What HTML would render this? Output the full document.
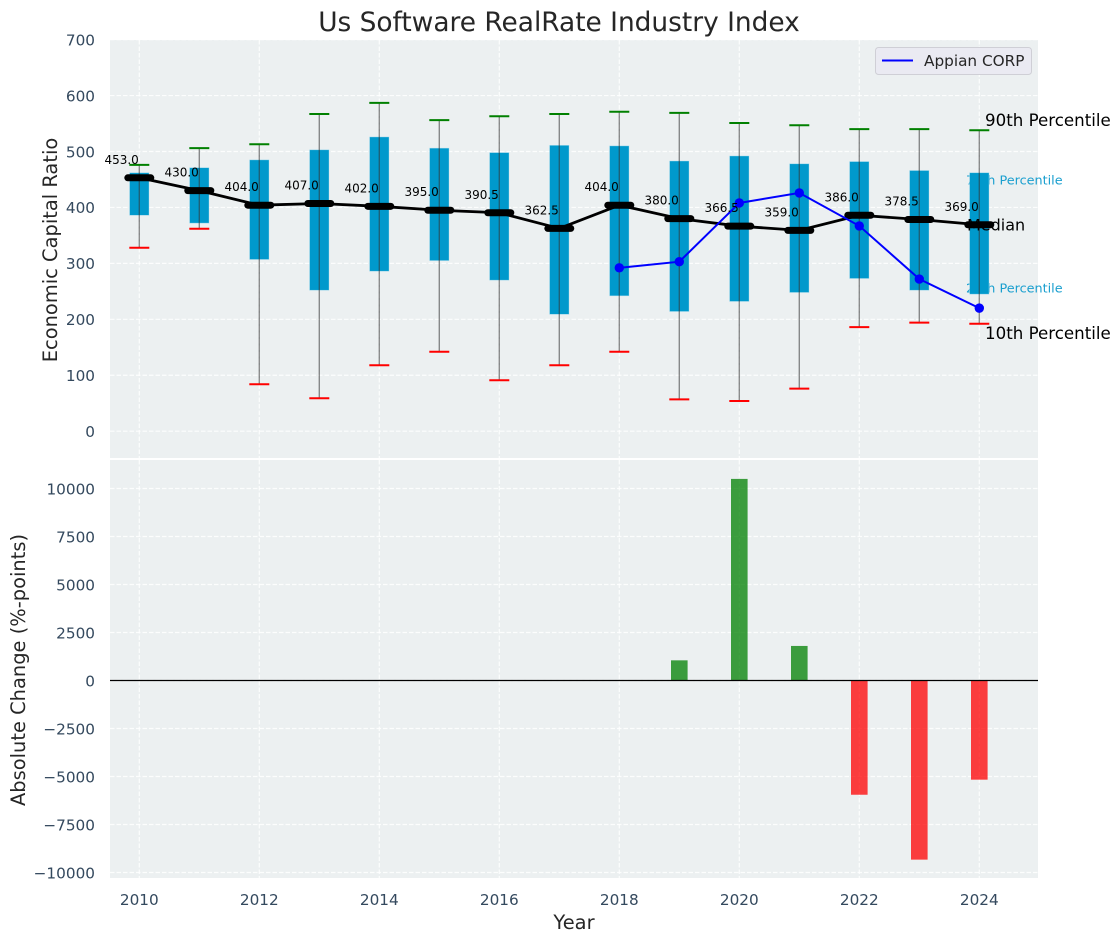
<!DOCTYPE html>
<html>
<head>
<meta charset="utf-8">
<style>
html,body{margin:0;padding:0;background:#fff;width:1120px;height:942px;overflow:hidden}
svg{display:block}
text{font-family:"DejaVu Sans","Liberation Sans",sans-serif}
</style>
</head>
<body>
<svg id="chart" width="1120" height="942" viewBox="0 0 1120 942" xmlns="http://www.w3.org/2000/svg">
  <rect x="110" y="40" width="928" height="418" fill="#ecf0f1"/>
  <rect x="110" y="460" width="928" height="418" fill="#ecf0f1"/>
  <g id="grid"></g>
  <g id="annots">
    <text x="966" y="184.500" font-size="12.800" fill="#1a9fcf">75th Percentile</text>
    <text x="966" y="292.500" font-size="12.800" fill="#1a9fcf">25th Percentile</text>
    <text x="985" y="126" font-size="16.670" fill="#000">90th Percentile</text>
    <text x="985" y="339" font-size="16.670" fill="#000">10th Percentile</text>
  </g>
  <g id="marks"></g>
  <g id="labels"></g>
  <g id="ticks"></g>
  <text x="967" y="230.500" font-size="16" fill="#000">Median</text>
  <text x="559" y="31" font-size="26.400" text-anchor="middle" fill="#262626">Us Software RealRate Industry Index</text>
  <text transform="translate(57,250) rotate(-90)" font-size="19.440" text-anchor="middle" fill="#262626">Economic Capital Ratio</text>
  <text transform="translate(25,670) rotate(-90)" font-size="19.440" text-anchor="middle" fill="#262626">Absolute Change (%-points)</text>
  <text x="574" y="929" font-size="19.440" text-anchor="middle" fill="#262626">Year</text>
  <g>
    <rect x="875.500" y="47.500" width="156" height="27" rx="3" fill="#eaeaf2" stroke="#cfcfd6" stroke-width="1"/>
    <line x1="882" x2="913" y1="60.500" y2="60.500" stroke="#0000ff" stroke-width="2"/>
    <text x="924" y="66" font-size="15.280" fill="#262626">Appian CORP</text>
  </g>
</svg>
<script>
const years = [2010,2011,2012,2013,2014,2015,2016,2017,2018,2019,2020,2021,2022,2023,2024];
const p90 = [476,506,513,567,587,556,563,567,571,569,551,547,540,540,538];
const p75 = [462,471,485,503,526,506,498,511,510,483,492,478,482,466,462];
const medians = [453,430,404,407,402,395,390.5,362.5,404,380,366.5,359,386,378.5,369];
const p25 = [386,372,307,252,286,305,270,209,242,214,232,248,273,252,245];
const p10 = [328,362,84,59,118,142,91,118,142,57,54,76,186,194,192];
const appianYears = [2018,2019,2020,2021,2022,2023,2024];
const appianValues = [292,303,408,426,367,272,220];
const changeYears = [2019,2020,2021,2022,2023,2024];
const changeValues = [1050,10500,1800,-5950,-9330,-5165];
const xTicks = [2010,2012,2014,2016,2018,2020,2022,2024];
const topTicks = [0,100,200,300,400,500,600,700];
const bottomTicks = [-10000,-7500,-5000,-2500,0,2500,5000,7500,10000];

const NS = 'http://www.w3.org/2000/svg';
const X = v => 139.3 + (v - 2010) * 60;
const YT = v => 431.2 - v * 0.5594;
const YB = v => 680.5 - v * 0.0192;

function mk(parentId, tag, attrs, txt) {
  const el = document.createElementNS(NS, tag);
  for (const k in attrs) el.setAttribute(k, attrs[k]);
  if (txt !== undefined) el.textContent = txt;
  document.getElementById(parentId).appendChild(el);
  return el;
}
const gridStyle = {stroke:'#ffffff','stroke-width':1.2,'stroke-dasharray':'4.5 2','stroke-opacity':0.85,fill:'none'};
const tickColor = '#34495e';

xTicks.forEach(t => {
  let el = mk('grid','line',Object.assign({x1:X(t),x2:X(t),y1:40,y2:458},gridStyle));
  
  
  el = mk('grid','line',Object.assign({x1:X(t),x2:X(t),y1:460,y2:878},gridStyle));
  
  
  el = mk('ticks','text',{x:X(t),y:905,'font-size':15.280,'text-anchor':'middle',fill:tickColor},String(t));
  
  
});
topTicks.forEach(t => {
  let el = mk('grid','line',Object.assign({x1:110,x2:1038,y1:YT(t),y2:YT(t)},gridStyle));
  
  
  el = mk('ticks','text',{x:95,y:YT(t)+5.800,'font-size':15.280,'text-anchor':'end',fill:tickColor},String(t));
  
  
});
bottomTicks.forEach(t => {
  let el = mk('grid','line',Object.assign({x1:110,x2:1038,y1:YB(t),y2:YB(t)},gridStyle));
  
  
  const s = t < 0 ? '\u2212' + Math.abs(t) : String(t);
  el = mk('ticks','text',{x:95,y:YB(t)+5.800,'font-size':15.280,'text-anchor':'end',fill:tickColor},s);
  
  
});

years.forEach((yr,i) => {
  const x = X(yr);
  const box = mk('marks','rect',{x:x-9.700,y:YT(p75[i]),width:19.400,height:YT(p25[i])-YT(p75[i]),fill:'#0099cc',stroke:'#a8dcee','stroke-width':0.6,'stroke-opacity':0.7});
  
  
  const w = mk('marks','line',{x1:x,x2:x,y1:YT(p90[i]),y2:YT(p10[i]),stroke:'#333333','stroke-width':1.4,'stroke-opacity':0.55});
  
  
  const hi = mk('marks','line',{x1:x-10,x2:x+10,y1:YT(p90[i]),y2:YT(p90[i]),stroke:'#008000','stroke-width':2});
  
  
  const lo = mk('marks','line',{x1:x-10,x2:x+10,y1:YT(p10[i]),y2:YT(p10[i]),stroke:'#ff0000','stroke-width':2});
  
  
});

const medLine = mk('marks','polyline',{points:years.map((y,i)=>X(y)+','+YT(medians[i])).join(' '),fill:'none',stroke:'#000','stroke-width':2.800});


years.forEach((yr,i) => {
  const x = X(yr), y = YT(medians[i]);
  const m = mk('marks','line',{x1:x-11.500,x2:x+11.500,y1:y,y2:y,stroke:'#000','stroke-width':7,'stroke-linecap':'round'});
  
  
  const t = mk('labels','text',{x:x-0.5,y:y-14,'font-size':12,'text-anchor':'end',fill:'#000'},medians[i].toFixed(1));
  
  
});

const appLine = mk('marks','polyline',{points:appianYears.map((y,i)=>X(y)+','+YT(appianValues[i])).join(' '),fill:'none',stroke:'#0000ff','stroke-width':2});


appianYears.forEach((yr,i) => {
  const c = mk('marks','circle',{cx:X(yr),cy:YT(appianValues[i]),r:4.700,fill:'#0000ff'});
  
  
});

changeYears.forEach((yr,i) => {
  const v = changeValues[i];
  const top = Math.min(YB(v),YB(0)), h = Math.abs(YB(v)-YB(0));
  const b = mk('marks','rect',{x:X(yr)-8.300,y:top,width:16.600,height:h,fill:v>=0?'#008000':'#ff0000','fill-opacity':0.75});
  
  
});
const zero = mk('marks','line',{x1:110,x2:1038,y1:YB(0),y2:YB(0),stroke:'#000','stroke-width':1.200});


</script>
</body>
</html>
